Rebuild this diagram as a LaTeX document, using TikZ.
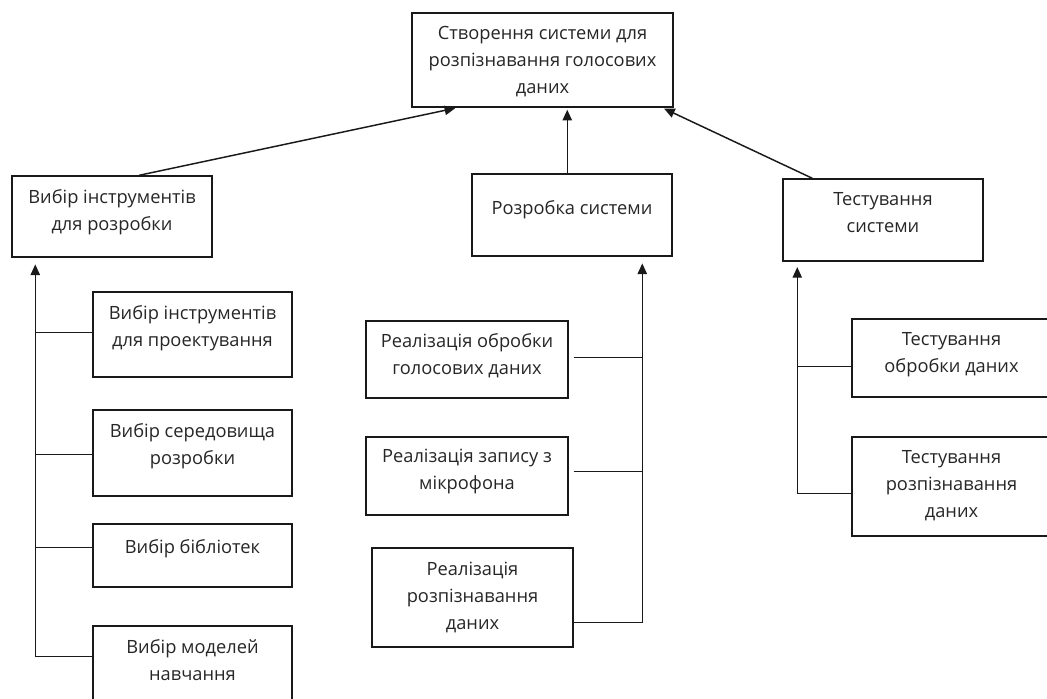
\documentclass[tikz,border=0pt]{standalone}
\usepackage{fontspec}
\setmainfont{Open Sans}
\usetikzlibrary{calc,arrows.meta}

% rectangle given by its corners (x1,y1)-(x2,y2) in picture units
\newcommand\boxxy[5]{%
  \node[box, minimum width={(#4-#2)*0.75pt}, minimum height={(#5-#3)*0.75pt}]
    (#1) at ({(#2+#4)/2},{(#3+#5)/2}) {};}

\begin{document}
\begin{tikzpicture}[x=0.75pt,y=-0.75pt,
  box/.style={draw=black!90, rectangle, line width=1.1pt, inner sep=0pt},
  lbl/.style={anchor=north, align=center, inner sep=0pt, text=black!85,
    font=\fontsize{13.7pt}{20.25pt}\selectfont},
  conn/.style={draw=black!90, line width=1.1pt},
  arr/.style={conn, -{Triangle[length=8pt,width=7pt]}},
]
\useasboundingbox (0,0) rectangle (1047,699);
\clip (0,0) rectangle (1047,699);

% top goal
\boxxy{T}{412}{13}{673}{107}
\node[lbl] (T-t) at ($(T.north)+(0,14)$) {Створення системи для\\розпізнавання голосових\\даних};

% second level
\boxxy{L}{12}{176}{212}{257}
\node[lbl] (L-t) at ($(L.north)+(0,14)$) {Вибір інструментів\\для розробки};
\boxxy{M}{472}{174}{672}{256}
\node[lbl] (M-t) at ($(M.north)+(0,27)$) {Розробка системи};
\boxxy{R}{783}{179}{983}{261}
\node[lbl] (R-t) at ($(R.north)+(0,14)$) {Тестування\\системи};

% tool selection
\boxxy{L1}{93}{292}{292}{377}
\node[lbl] (L1-t) at ($(L1.north)+(0,14)$) {Вибір інструментів\\для проектування};
\boxxy{L2}{93}{410}{292}{496}
\node[lbl] (L2-t) at ($(L2.north)+(0,14)$) {Вибір середовища\\розробки};
\boxxy{L3}{93}{524}{292}{587}
\node[lbl] (L3-t) at ($(L3.north)+(0,16)$) {Вибір бібліотек};
\boxxy{L4}{93}{626}{292}{720}
\node[lbl] (L4-t) at ($(L4.north)+(0,14)$) {Вибір моделей\\навчання};

% development
\boxxy{M1}{366}{321}{568}{398}
\node[lbl] (M1-t) at ($(M1.north)+(0,13)$) {Реалізація обробки\\голосових даних};
\boxxy{M2}{366}{437}{568}{515}
\node[lbl] (M2-t) at ($(M2.north)+(0,13)$) {Реалізація запису з\\мікрофона};
\boxxy{M3}{372}{548}{573}{647}
\node[lbl] (M3-t) at ($(M3.north)+(0,15)$) {Реалізація\\розпізнавання\\даних};

% testing
\boxxy{R1}{852}{319}{1051}{397}
\node[lbl] (R1-t) at ($(R1.north)+(0,14)$) {Тестування\\обробки даних};
\boxxy{R2}{852}{437}{1051}{536}
\node[lbl] (R2-t) at ($(R2.north)+(0,14)$) {Тестування\\розпізнавання\\даних};

% links to the top goal
\draw[arr, shorten >=1.5pt] ($(L.north west)+(128,0)$) -- ($(T.south west)+(46,0)$);
\draw[arr, shorten >=1.5pt] ($(M.north west)+(96,0)$) -- ($(T.south west)+(156,0)$);
\draw[arr, shorten >=1.5pt] ($(R.north west)+(30,0)$) -- ($(T.south west)+(251,0)$);

% left trunk
\coordinate (lt) at ($(L.south west)+(24,0)$);
\draw[arr, shorten >=5pt] ($(L4.north west)+(0,31)$) -| (lt);
\draw[conn] ($(L1.north west)+(0,41)$) coordinate (l1b) -- (l1b -| lt);
\draw[conn] ($(L2.north west)+(0,45)$) coordinate (l2b) -- (l2b -| lt);
\draw[conn] ($(L3.north west)+(0,24)$) coordinate (l3b) -- (l3b -| lt);

% middle trunk
\coordinate (mt) at ($(M.south west)+(171,0)$);
\draw[arr, shorten >=5pt] ($(M3.north east)+(0,75)$) -| (mt);
\draw[conn] ($(M1.north east)+(5,37)$) coordinate (m1b) -- (m1b -| mt);
\draw[conn] ($(M2.north east)+(5,35)$) coordinate (m2b) -- (m2b -| mt);

% right trunk
\coordinate (rt) at ($(R.south west)+(15,0)$);
\draw[arr, shorten >=4pt] ($(R2.north west)+(0,57)$) -| (rt);
\draw[conn] ($(R1.north west)+(0,48)$) coordinate (r1b) -- (r1b -| rt);
\end{tikzpicture}
\end{document}
